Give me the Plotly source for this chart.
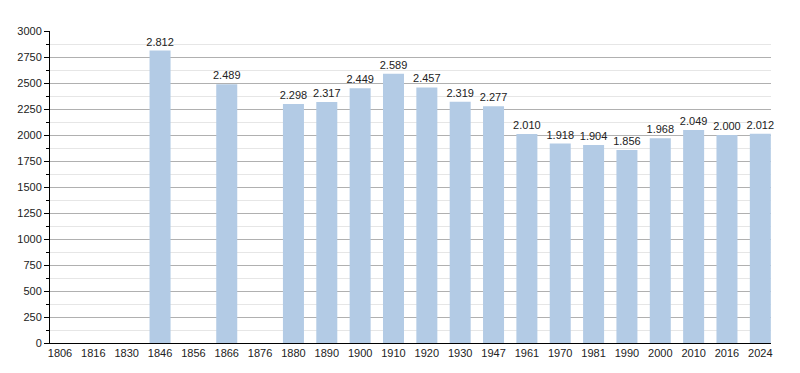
import plotly.graph_objects as go

years = ["1806", "1816", "1830", "1846", "1856", "1866", "1876", "1880", "1890", "1900",
         "1910", "1920", "1930", "1947", "1961", "1970", "1981", "1990", "2000", "2010",
         "2016", "2024"]
population = [None, None, None, 2812, None, 2489, None, 2298, 2317, 2449,
              2589, 2457, 2319, 2277, 2010, 1918, 1904, 1856, 1968, 2049,
              2000, 2012]
labels = ["" if v is None else f"{v:,}".replace(",", ".") for v in population]

fig = go.Figure(go.Bar(
    x=years, y=population, text=labels, textposition="outside",
    constraintext="none",
    textfont=dict(size=11, color="#222"), cliponaxis=False,
    marker=dict(color="#b3cbe5", line=dict(width=0)), width=0.63,
))

fig.update_layout(
    width=792, height=365,
    margin=dict(l=42, r=29, t=23, b=30, autoexpand=False),
    plot_bgcolor="white", paper_bgcolor="white",
    font=dict(family="Liberation Sans, Arial, sans-serif", size=11, color="#222"),
    showlegend=False,
    xaxis=dict(type="category", range=[-0.3, 21.32], showgrid=False, automargin=False,
               showline=True, linecolor="#000", linewidth=1, ticks="",
               tickfont=dict(size=11)),
    yaxis=dict(range=[0, 3000], dtick=250, tick0=0, showgrid=True, automargin=False,
               gridcolor="#b0b0b0", gridwidth=1, showline=True, linecolor="#000",
               linewidth=1, ticks="outside", ticklen=5, tickcolor="#000",
               zeroline=False, tickfont=dict(size=11),
               minor=dict(dtick=125, tick0=0, ticks="outside", ticklen=3,
                          tickcolor="#000", showgrid=True, gridcolor="#e6e6e6")),
)

fig.write_html("out.html")
